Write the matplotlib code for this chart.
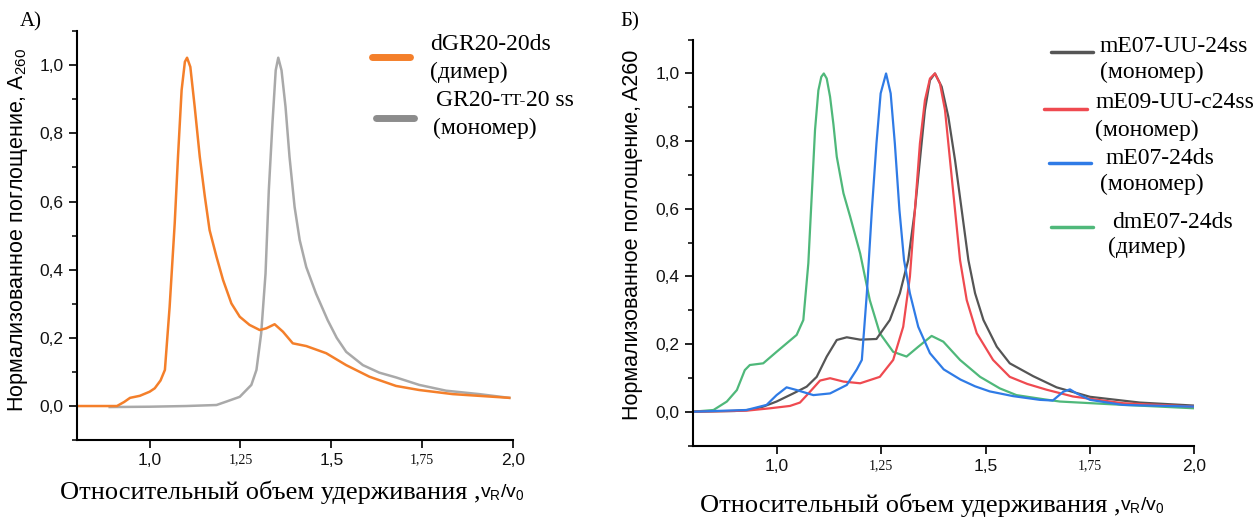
import matplotlib
matplotlib.use("Agg")
import matplotlib.pyplot as plt
from matplotlib.lines import Line2D
from matplotlib.ticker import MultipleLocator

plt.rcParams["mathtext.fontset"] = "custom"
plt.rcParams["mathtext.rm"] = "Liberation Sans"
plt.rcParams["mathtext.it"] = "Liberation Sans:italic"

# --------------------------------------------------
# Data
# --------------------------------------------------

# panel A
dimer_a_x = [0.80, 0.91, 0.93, 0.946, 0.973, 1.0, 1.014, 1.03, 1.042, 1.055, 1.069, 1.078,
             1.088, 1.097, 1.103, 1.112, 1.124, 1.138, 1.152, 1.165, 1.184, 1.202, 1.225,
             1.248, 1.275, 1.303, 1.321, 1.344, 1.367, 1.394, 1.431, 1.486, 1.541, 1.605,
             1.678, 1.742, 1.834, 1.99]
dimer_a_y = [0.0, 0.0, 0.012, 0.024, 0.03, 0.042, 0.052, 0.075, 0.106, 0.291, 0.536, 0.731,
             0.927, 1.01, 1.022, 0.995, 0.878, 0.731, 0.614, 0.516, 0.438, 0.37, 0.301,
             0.262, 0.238, 0.223, 0.228, 0.24, 0.218, 0.184, 0.176, 0.155, 0.12, 0.086,
             0.059, 0.047, 0.035, 0.024]

mono_a_x = [0.89, 1.0, 1.1, 1.184, 1.211, 1.248, 1.28, 1.294, 1.307, 1.319, 1.328, 1.338,
            1.347, 1.354, 1.363, 1.374, 1.385, 1.399, 1.413, 1.431, 1.458, 1.49, 1.515,
            1.541, 1.587, 1.632, 1.678, 1.742, 1.816, 1.907, 1.99]
mono_a_y = [-0.003, -0.002, 0.0, 0.003, 0.013, 0.027, 0.062, 0.106, 0.213, 0.389, 0.633,
            0.829, 0.985, 1.022, 0.985, 0.878, 0.731, 0.584, 0.487, 0.408, 0.33, 0.252,
            0.2, 0.159, 0.12, 0.098, 0.084, 0.062, 0.045, 0.035, 0.024]

# panel B
uu_x = [0.8, 0.9, 0.94, 0.968, 1.0, 1.04, 1.072, 1.096, 1.12, 1.144, 1.168, 1.2, 1.239,
        1.271, 1.295, 1.315, 1.331, 1.343, 1.355, 1.367, 1.379, 1.395, 1.411, 1.427, 1.443,
        1.459, 1.475, 1.495, 1.527, 1.558, 1.614, 1.67, 1.75, 1.869, 2.0]
uu_y = [0.0, 0.002, 0.006, 0.015, 0.03, 0.054, 0.074, 0.103, 0.163, 0.212, 0.22, 0.213,
        0.215, 0.271, 0.35, 0.448, 0.596, 0.744, 0.892, 0.98, 1.0, 0.961, 0.872, 0.744,
        0.596, 0.448, 0.35, 0.271, 0.192, 0.143, 0.105, 0.072, 0.044, 0.027, 0.018]

uuc_x = [0.8, 0.928, 0.984, 1.032, 1.056, 1.08, 1.104, 1.128, 1.16, 1.2, 1.247, 1.279,
         1.303, 1.319, 1.331, 1.343, 1.355, 1.367, 1.379, 1.391, 1.403, 1.415, 1.427, 1.439,
         1.455, 1.479, 1.518, 1.558, 1.6, 1.646, 1.709, 1.829, 2.0]
uuc_y = [0.0, 0.003, 0.01, 0.017, 0.027, 0.059, 0.092, 0.099, 0.089, 0.084, 0.103, 0.153,
         0.251, 0.399, 0.596, 0.793, 0.921, 0.985, 1.0, 0.97, 0.892, 0.744, 0.596, 0.448,
         0.33, 0.232, 0.153, 0.103, 0.082, 0.065, 0.045, 0.025, 0.015]

ds_x = [0.8, 0.928, 0.976, 1.0, 1.024, 1.048, 1.088, 1.128, 1.168, 1.192, 1.204, 1.216,
        1.228, 1.239, 1.249, 1.262, 1.273, 1.283, 1.294, 1.305, 1.319, 1.339, 1.367, 1.4,
        1.44, 1.475, 1.51, 1.566, 1.63, 1.661, 1.686, 1.702, 1.718, 1.75, 1.829, 2.0]
ds_y = [0.0, 0.005, 0.02, 0.049, 0.072, 0.064, 0.049, 0.054, 0.079, 0.125, 0.153, 0.35,
        0.596, 0.793, 0.941, 1.0, 0.941, 0.793, 0.596, 0.448, 0.35, 0.251, 0.173, 0.125,
        0.095, 0.075, 0.06, 0.046, 0.035, 0.033, 0.059, 0.066, 0.054, 0.035, 0.02, 0.015]

dds_x = [0.8, 0.849, 0.881, 0.905, 0.924, 0.936, 0.968, 1.0, 1.024, 1.048, 1.064, 1.076,
         1.084, 1.092, 1.1, 1.107, 1.113, 1.12, 1.128, 1.136, 1.144, 1.16, 1.176, 1.2,
         1.223, 1.247, 1.279, 1.311, 1.339, 1.371, 1.399, 1.439, 1.487, 1.534, 1.574,
         1.638, 1.678, 1.8, 2.0]
dds_y = [0.0, 0.005, 0.03, 0.064, 0.123, 0.138, 0.143, 0.177, 0.202, 0.227, 0.271, 0.439,
         0.636, 0.833, 0.95, 0.99, 1.0, 0.985, 0.931, 0.85, 0.754, 0.646, 0.577, 0.468,
         0.33, 0.232, 0.177, 0.163, 0.192, 0.224, 0.207, 0.153, 0.103, 0.069, 0.049,
         0.037, 0.03, 0.022, 0.01]

x_ticks = [1.0, 1.25, 1.5, 1.75, 2.0]
x_tick_labels = ["1,0", "1,25", "1,5", "1,75", "2,0"]
y_ticks = [0.0, 0.2, 0.4, 0.6, 0.8, 1.0]
y_tick_labels = ["0,0", "0,2", "0,4", "0,6", "0,8", "1,0"]

SERIF = "Liberation Serif"
SANS = "Liberation Sans"

fig = plt.figure(figsize=(12.6, 5.19), dpi=100)


def style_axes(ax, ylabel, label_x, label_y):
    ax.set_xlim(0.8, 2.0)
    ax.set_ylim(-0.1, 1.1)
    for side in ["top", "right"]:
        ax.spines[side].set_visible(False)
    for side in ["left", "bottom"]:
        ax.spines[side].set_linewidth(1.5)
    ax.set_xticks(x_ticks)
    ax.set_xticklabels(x_tick_labels)
    ax.set_yticks(y_ticks)
    ax.set_yticklabels(y_tick_labels)
    ax.yaxis.set_minor_locator(MultipleLocator(0.1))
    ax.tick_params(which="major", direction="out", length=6, width=1.3,
                   labelsize=12.5, colors="#111111")
    ax.tick_params(which="minor", direction="out", length=3.5, width=1.1)
    for lab in ax.get_xticklabels() + ax.get_yticklabels():
        lab.set_fontfamily(SANS)
    # the 1,25 and 1,75 labels are set in a small serif face
    for i in [1, 3]:
        ax.get_xticklabels()[i].set_fontfamily(SERIF)
        ax.get_xticklabels()[i].set_fontsize(10)
    ax.set_ylabel(ylabel, fontfamily=SANS, fontsize=15.5, va="center")
    ax.yaxis.set_label_coords(label_x, label_y)


def two_part_label(x_px, y_px):
    t1 = fig.text(x_px / 1260, 1 - y_px / 519, "Относительный объем удерживания ,",
                  fontfamily=SERIF, fontsize=19, ha="left", va="center")
    plt.annotate(r"v$_\mathregular{R}$/v$_0$", xy=(1, 0.08), xycoords=t1,
                 ha="left", va="bottom", fontfamily=SANS, fontsize=14,
                 annotation_clip=False)


def legend_entry(x0, x1, y_line, color, lw, x_text, y_text, lines, size=17):
    fig.add_artist(Line2D([x0 / 1260, x1 / 1260], [1 - y_line / 519, 1 - y_line / 519],
                          color=color, lw=lw, solid_capstyle="round"))
    for k, s in enumerate(lines):
        fig.text(x_text[k] / 1260, 1 - y_text[k] / 519, s, fontfamily=SERIF,
                 fontsize=size, ha="left", va="center")


# --------------------------------------------------
# Panel A
# --------------------------------------------------
ax1 = fig.add_axes([0.0611, 0.152, 0.346, 0.788])
ax1.plot(mono_a_x, mono_a_y, color="#a9a9a9", lw=1.8)
ax1.plot(dimer_a_x, dimer_a_y, color="#f47f2a", lw=1.8)
style_axes(ax1, "Нормализованное поглощение, A$_{260}$", -0.135, 0.515)

fig.text(20 / 1260, 1 - 22 / 519, "А)", fontfamily=SERIF, fontsize=15, va="center")
two_part_label(60, 492)

legend_entry(372, 410, 57, "#f47f2a", 5, [430, 430], [44, 72],
             ["dGR20-20ds", "(димер)"])
fig.add_artist(Line2D([376 / 1260, 414 / 1260], [1 - 118 / 519, 1 - 118 / 519],
                      color="#8c8c8c", lw=5, solid_capstyle="round"))
ta = fig.text(436 / 1260, 1 - 101 / 519, "GR20-", fontfamily=SERIF, fontsize=17,
              ha="left", va="center")
tb = plt.annotate("TT-", xy=(1, 0.12), xycoords=ta, ha="left", va="bottom",
                  fontfamily=SERIF, fontsize=12.5, annotation_clip=False)
plt.annotate("20 ss", xy=(1, -0.12), xycoords=tb, ha="left", va="bottom",
             fontfamily=SERIF, fontsize=17, annotation_clip=False)
fig.text(433 / 1260, 1 - 128 / 519, "(мономер)", fontfamily=SERIF, fontsize=17,
         ha="left", va="center")

# --------------------------------------------------
# Panel B
# --------------------------------------------------
ax2 = fig.add_axes([0.55, 0.1416, 0.398, 0.782])
ax2.plot(dds_x, dds_y, color="#4fb87a", lw=1.6)
ax2.plot(uu_x, uu_y, color="#555555", lw=1.6)
ax2.plot(uuc_x, uuc_y, color="#ef4a50", lw=1.6)
ax2.plot(ds_x, ds_y, color="#2f7be6", lw=1.6)
style_axes(ax2, "Нормализованное поглощение, A260", -0.1215, 0.52)

fig.text(620 / 1260, 1 - 22 / 519, "Б)", fontfamily=SERIF, fontsize=15, va="center")
two_part_label(700, 505)

legend_entry(1051, 1093, 52, "#555555", 2.5, [1100, 1100], [46, 72],
             ["mE07-UU-24ss", "(мономер)"])
legend_entry(1044, 1087, 109, "#ef4a50", 2.5, [1095, 1095], [103, 130],
             ["mE09-UU-c24ss", "(мономер)"])
legend_entry(1049, 1091, 163, "#2f7be6", 2.5, [1106, 1100], [159, 184],
             ["mE07-24ds", "(мономер)"])
legend_entry(1051, 1093, 227, "#4fb87a", 2.5, [1112, 1108], [222, 247],
             ["dmE07-24ds", "(димер)"])

fig.savefig("out.png", dpi=100)
